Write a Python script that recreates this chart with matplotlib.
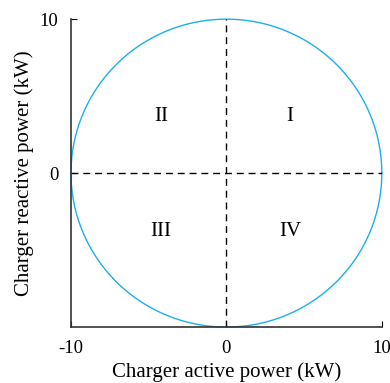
import matplotlib.pyplot as plt
import numpy as np

plt.rcParams['font.family'] = ['Liberation Serif', 'DejaVu Serif']
plt.rcParams['axes.unicode_minus'] = False

# Data
radius = 10  # charger apparent power limit (kW)
x_ticks = [-10, 0, 10]
y_ticks = [0, 10]
quadrant_labels = ['I', 'II', 'III', 'IV']
quadrant_x = [4.1, -4.2, -4.2, 4.1]
quadrant_y = [3.7, 3.7, -3.8, -3.8]

theta = np.linspace(0, 2*np.pi, 721)

fig = plt.figure(figsize=(3.9, 3.83), dpi=100)
ax = fig.add_axes([0.182, 0.146, 0.797, 0.804])

ax.plot(radius*np.cos(theta), radius*np.sin(theta), color='#1ab0ec', linewidth=1.0, clip_on=False)
ax.axhline(0, color='black', linewidth=1.0, linestyle=(0, (5, 3.5)))
ax.axvline(0, color='black', linewidth=1.0, linestyle=(0, (5, 3.5)))

for lab, qx, qy in zip(quadrant_labels, quadrant_x, quadrant_y):
    ax.text(qx, qy, lab, fontsize=15, ha='center', va='center')

ax.set_xlim(-radius, radius)
ax.set_ylim(-radius, radius)
ax.set_xticks(x_ticks)
ax.set_yticks(y_ticks)
ax.tick_params(direction='in', length=4, labelsize=13.5, pad=9)
ax.spines['top'].set_visible(False)
ax.spines['right'].set_visible(False)
for s in ['left', 'bottom']:
    ax.spines[s].set_linewidth(1.2)
    ax.spines[s].set_color('#333333')

ax.set_xlabel('Charger active power (kW)', fontsize=15, labelpad=4)
ax.set_ylabel('Charger reactive power (kW)', fontsize=15, labelpad=4)

fig.savefig('out.png', dpi=100)
